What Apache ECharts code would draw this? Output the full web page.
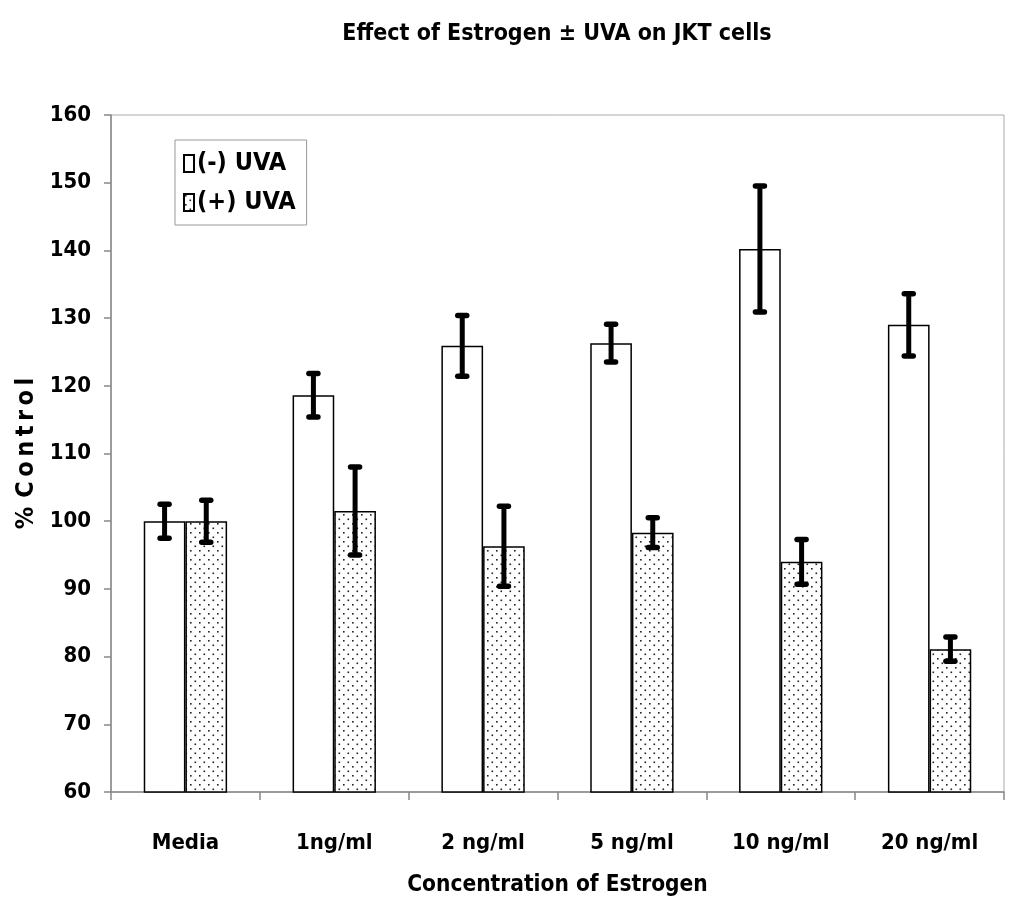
<!DOCTYPE html>
<html>
<head>
<meta charset="utf-8">
<script src="https://cdn.jsdelivr.net/npm/echarts@6/dist/echarts.min.js"></script>
<style>html,body{margin:0;padding:0;background:#fff;}#c{width:1024px;height:920px;}</style>
</head>
<body>
<div id="c"></div>
<script>
var categories = ['Media', '1ng/ml', '2 ng/ml', '5 ng/ml', '10 ng/ml', '20 ng/ml'];
var minusUVA = [100, 118.6, 125.9, 126.3, 140.2, 129.0];
var minusErr = [2.5, 3.2, 4.5, 2.8, 9.3, 4.6];
var plusUVA = [100, 101.5, 96.3, 98.3, 94.0, 81.1];
var plusErr = [3.1, 6.5, 5.9, 2.2, 3.3, 1.8];
var seriesNames = ['(-) UVA', '(+) UVA'];

var FONT = '"DejaVu Sans Condensed", "DejaVu Sans", sans-serif';

// dotted pattern
var pc = document.createElement('canvas');
pc.width = 9; pc.height = 9;
var pctx = pc.getContext('2d');
pctx.fillStyle = '#ffffff';
pctx.fillRect(0, 0, 9, 9);
pctx.fillStyle = '#222222';
pctx.fillRect(1, 1, 1.6, 1.6);
pctx.fillRect(5.5, 5.5, 1.6, 1.6);

var BAR_FRAC = 0.28;

function errRender(values, errs, sign) {
  return function (params, api) {
    var i = api.value(0);
    var v = values[i], e = errs[i];
    var band = api.size([1, 0])[0];
    var c = api.coord([i, v]);
    var x = c[0] + sign * band * BAR_FRAC / 2;
    var top = api.coord([i, v + e])[1];
    var bot = api.coord([i, v - e])[1];
    var cap = 4.5;
    var st = { stroke: '#000', lineWidth: 5.5, lineCap: 'round' };
    return {
      type: 'group',
      children: [
        { type: 'line', shape: { x1: x, y1: top, x2: x, y2: bot }, style: { stroke: '#000', lineWidth: 5 } },
        { type: 'line', shape: { x1: x - cap, y1: top, x2: x + cap, y2: top }, style: st },
        { type: 'line', shape: { x1: x - cap, y1: bot, x2: x + cap, y2: bot }, style: st }
      ]
    };
  };
}

var chart = echarts.init(document.getElementById('c'));
chart.setOption({
  backgroundColor: '#fff',
  animation: false,
  title: {
    text: 'Effect of Estrogen \u00b1 UVA on JKT cells',
    left: 552, top: 18, textAlign: 'center',
    textStyle: { fontFamily: FONT, fontWeight: 'bold', fontSize: 23, color: '#000' }
  },
  legend: {
    data: seriesNames,
    orient: 'vertical',
    left: 175, top: 140,
    icon: 'rect',
    itemWidth: 10, itemHeight: 17, itemGap: 14,
    padding: [11, 11, 10, 8],
    backgroundColor: '#fff',
    borderColor: '#999', borderWidth: 1, borderRadius: 0,
    textStyle: { fontFamily: FONT, fontWeight: 'bold', fontSize: 25, color: '#000', padding: [0, 0, 0, -2] }
  },
  grid: { left: 111, right: 20, top: 115, bottom: 128, show: true, borderColor: '#aaa', borderWidth: 1, backgroundColor: 'transparent' },
  xAxis: {
    type: 'category',
    data: categories,
    axisLine: { lineStyle: { color: '#888', width: 1.5 } },
    axisTick: { show: true, length: 8, lineStyle: { color: '#888', width: 1.5 } },
    axisLabel: { margin: 40, fontFamily: FONT, fontWeight: 'bold', fontSize: 22, color: '#000' },
    name: 'Concentration of Estrogen',
    nameLocation: 'middle', nameGap: 82,
    nameTextStyle: { fontFamily: FONT, fontWeight: 'bold', fontSize: 22.5, color: '#000' }
  },
  yAxis: {
    type: 'value', min: 60, max: 160, interval: 10,
    axisLine: { show: true, lineStyle: { color: '#888', width: 1.5 } },
    axisTick: { show: true, length: 7, lineStyle: { color: '#888', width: 1.5 } },
    splitLine: { show: false },
    axisLabel: { margin: 20, fontFamily: FONT, fontWeight: 'bold', fontSize: 22, color: '#000' },
    name: '%\u2009\u2009C\u2009o\u2009n\u2009t\u2009r\u2009o\u2009l',
    nameLocation: 'middle', nameGap: 64,
    nameTextStyle: { fontFamily: FONT, fontWeight: 'bold', fontSize: 25, color: '#000' }
  },
  series: [
    {
      name: seriesNames[0], type: 'bar', data: minusUVA,
      barWidth: (BAR_FRAC * 100) + '%', barGap: '0%',
      itemStyle: { color: '#fff', borderColor: '#000', borderWidth: 1.5 }
    },
    {
      name: seriesNames[1], type: 'bar', data: plusUVA,
      barWidth: (BAR_FRAC * 100) + '%', barGap: '0%',
      itemStyle: { color: { image: pc, repeat: 'repeat' }, borderColor: '#000', borderWidth: 1.5 }
    },
    {
      type: 'custom', renderItem: errRender(minusUVA, minusErr, -1),
      data: categories.map(function (c, i) { return [i]; }), z: 10, silent: true
    },
    {
      type: 'custom', renderItem: errRender(plusUVA, plusErr, 1),
      data: categories.map(function (c, i) { return [i]; }), z: 10, silent: true
    }
  ]
});
</script>
</body>
</html>
